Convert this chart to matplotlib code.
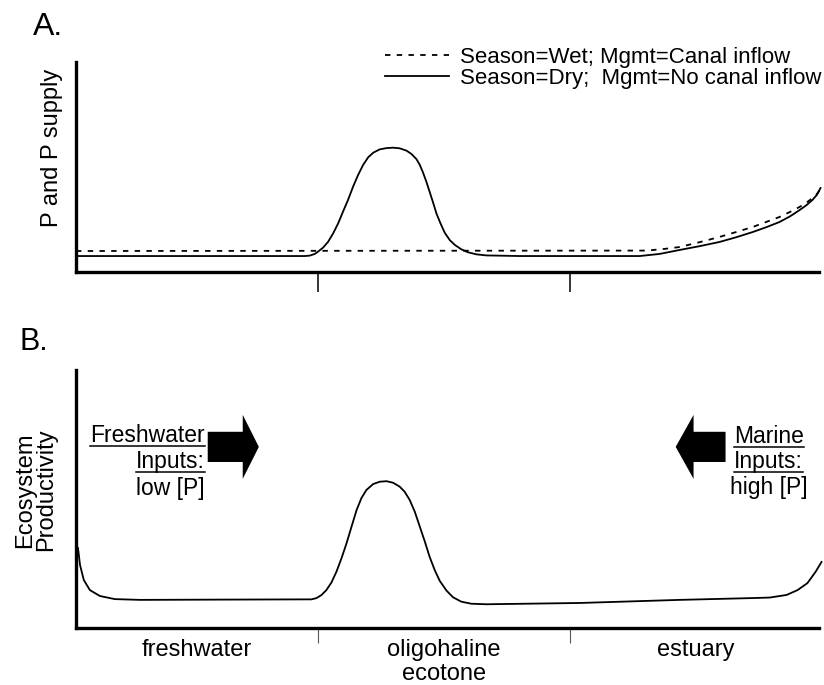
import matplotlib.pyplot as plt
from matplotlib.patches import FancyArrow
from matplotlib.lines import Line2D

plt.rcParams['font.family'] = ['Liberation Sans', 'DejaVu Sans']

# zones along the salinity gradient (x is distance, arbitrary units)
zone_labels = ['freshwater', 'oligohaline\necotone', 'estuary']
zone_centers = [52, 150, 250]
zone_bounds = [100, 200]

# panel A: P and P supply, dry season / no canal inflow
dry_x = [4.0, 94.8, 96.8, 98.8, 100.1, 102.1, 104.1, 106.1, 108.1, 110.0,
         112.0, 114.0, 116.0, 118.0, 120.0, 122.0, 124.6, 127.3, 129.9, 132.5,
         135.2, 137.2, 139.2, 140.5, 141.8, 143.1, 144.4, 145.8, 147.1, 148.7,
         150.4, 152.4, 154.4, 157.0, 159.6, 163.0, 166.9, 180.2, 227.8, 235.7,
         243.7, 251.6, 259.5, 266.0, 272.6, 278.0, 283.3, 287.5, 291.3, 294.0,
         296.4, 298.2, 299.6]
dry_y = [7.6, 7.6, 7.8, 8.6, 9.7, 11.6, 14.4, 18.4, 23.2, 28.7,
         34.3, 40.6, 46.2, 51.0, 54.6, 56.8, 58.4, 59.0, 59.2, 58.9,
         57.8, 56.2, 53.7, 51.0, 47.3, 43.0, 38.2, 33.0, 27.9, 23.2,
         18.7, 15.2, 12.9, 10.8, 9.4, 8.4, 7.9, 7.6, 7.6, 8.6,
         10.5, 12.3, 14.3, 16.5, 19.0, 21.3, 23.8, 26.5, 29.5, 31.8,
         34.3, 36.8, 40.0]

# panel A: wet season / canal inflow
wet_x = [4.0, 230.6, 237.7, 243.7, 251.6, 259.5, 266.0, 272.6, 278.0, 283.3,
         287.5, 291.3, 294.0, 296.4, 298.2, 299.6]
wet_y = [10.0, 10.2, 11.0, 11.9, 14.2, 16.7, 19.0, 21.4, 23.8, 26.2,
         28.6, 31.0, 33.0, 35.2, 37.2, 39.5]

# panel B: ecosystem productivity
prod_x = [4.8, 5.6, 7.1, 9.5, 13.5, 19.4, 29.4, 60.0, 97.5, 99.5,
          101.5, 103.4, 105.4, 107.4, 109.4, 111.4, 113.4, 115.4, 117.3, 119.3,
          122.0, 124.6, 127.3, 129.9, 132.5, 134.5, 136.5, 138.5, 140.5, 142.5,
          144.4, 146.4, 148.4, 151.1, 153.7, 157.0, 161.0, 167.0, 204.0, 243.7,
          272.6, 279.4, 286.1, 290.5, 294.4, 297.6, 300.0]
prod_y = [31.0, 24.4, 18.6, 14.7, 12.4, 11.2, 10.9, 11.0, 11.1, 11.6,
          12.8, 14.7, 17.6, 21.8, 27.0, 32.8, 39.3, 45.7, 50.3, 53.5,
          55.8, 56.7, 56.9, 56.3, 54.8, 52.8, 49.6, 45.1, 39.3, 33.5,
          27.6, 22.5, 18.3, 14.5, 11.9, 10.2, 9.4, 9.2, 9.7, 10.9,
          11.6, 11.8, 12.8, 14.7, 17.4, 21.7, 25.6]

W, H = 824, 685
fig = plt.figure(figsize=(W / 100, H / 100), dpi=100)
axA = fig.add_axes([76 / W, 1 - 272 / H, (819 - 76) / W, (272 - 62) / H])
axB = fig.add_axes([76 / W, 1 - 628 / H, (819 - 76) / W, (628 - 370) / H])


def style(ax, tick_len, tick_w, tick_col):
    for s in ['top', 'right']:
        ax.spines[s].set_visible(False)
    for s in ['left', 'bottom']:
        ax.spines[s].set_linewidth(2.4)
        ax.spines[s].set_capstyle('projecting')
    ax.set_xlim(4, 299)
    ax.set_ylim(0, 100)
    ax.set_yticks([])
    ax.set_xticks(zone_bounds)
    ax.tick_params(axis='x', which='major', direction='out', length=tick_len,
                   width=tick_w, color=tick_col, labelbottom=False)


style(axA, 14.4, 1.1, 'k')
style(axB, 11, 0.8, '0.35')

# panel A
axA.plot(wet_x, wet_y, color='k', lw=1.3, ls=(0, (3, 3.5)), clip_on=False,
         label='Season=Wet; Mgmt=Canal inflow')
axA.plot(dry_x, dry_y, color='k', lw=1.3, clip_on=False,
         label='Season=Dry;  Mgmt=No canal inflow')
axA.legend(loc='upper right', bbox_to_anchor=(822 / W, 1 - 47 / H),
           bbox_transform=fig.transFigure, frameon=False, fontsize=16,
           handlelength=2.9, handletextpad=0.5, labelspacing=0.0,
           borderpad=0, borderaxespad=0)
fig.text(52 / W, 1 - 148 / H, 'P and P supply', rotation=90, fontsize=17,
         ha='center', va='center')
fig.text(33 / W, 1 - 35 / H, 'A.', fontsize=23, ha='left', va='baseline')

# panel B
axB.plot(prod_x, prod_y, color='k', lw=1.3, clip_on=False)
axB.set_xticks(zone_centers, minor=True)
axB.set_xticklabels(zone_labels, minor=True, fontsize=17, linespacing=1.1)
axB.tick_params(axis='x', which='minor', length=0, pad=8)
fig.text(36 / W, 1 - 490 / H, 'Ecosystem\nProductivity', rotation=90,
         fontsize=17, ha='center', va='center', multialignment='center',
         linespacing=0.95)
fig.text(20 / W, 1 - 350 / H, 'B.', fontsize=22, ha='left', va='baseline')

# input arrows
axB.add_patch(FancyArrow(56.3, 70.2, 20.3, 0, width=11.7, head_width=24.8,
                         head_length=6.4, length_includes_head=True,
                         color='k', lw=0))
axB.add_patch(FancyArrow(261.9, 70.2, -19.8, 0, width=11.7, head_width=24.8,
                         head_length=7.1, length_includes_head=True,
                         color='k', lw=0))

fresh = [axB.text(55.2, 72.1, 'Freshwater', fontsize=16.5, ha='right', va='baseline'),
         axB.text(55.2, 62.0, 'Inputs:', fontsize=16.5, ha='right', va='baseline')]
axB.text(55.2, 51.6, 'low [P]', fontsize=16.5, ha='right', va='baseline')
marine = [axB.text(279, 71.7, 'Marine', fontsize=16.5, ha='center', va='baseline'),
          axB.text(279, 62.0, 'Inputs:', fontsize=16.5, ha='center', va='baseline')]
axB.text(279, 52.0, 'high [P]', fontsize=16.5, ha='center', va='baseline')

# underline the headings
fig.canvas.draw()
r = fig.canvas.get_renderer()
for t in fresh + marine:
    bb = t.get_window_extent(r)
    yb = axB.transData.transform(t.get_position())[1] - 4
    fig.add_artist(Line2D([bb.x0 / W, bb.x1 / W], [yb / H, yb / H],
                          transform=fig.transFigure, color='k', lw=1.1))

fig.savefig('out.png', dpi=100)
